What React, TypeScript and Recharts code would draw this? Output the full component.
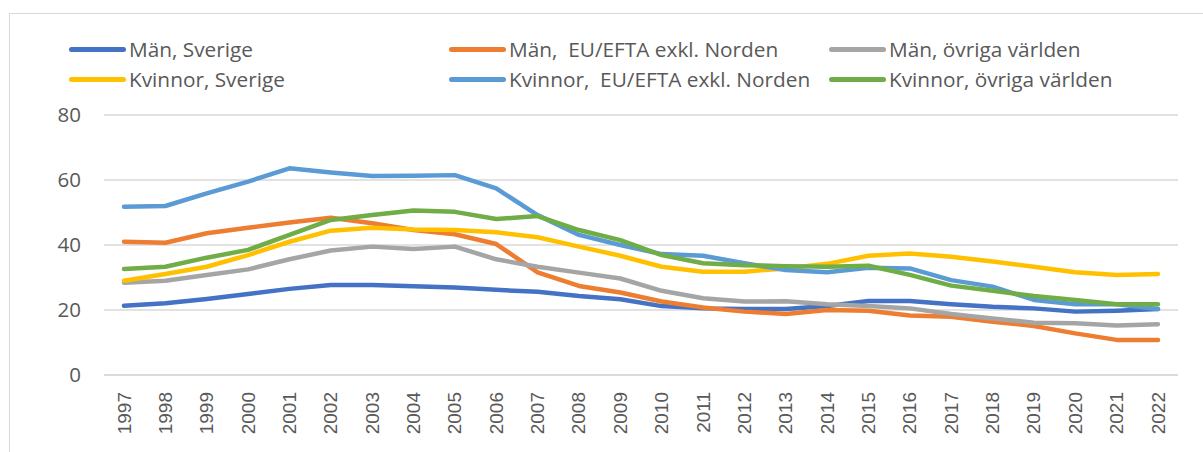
import React from 'react';
import { LineChart, Line, XAxis, YAxis, CartesianGrid } from 'recharts';

const years = [
  '1997', '1998', '1999', '2000', '2001', '2002', '2003', '2004', '2005', '2006', '2007', '2008', '2009',
  '2010', '2011', '2012', '2013', '2014', '2015', '2016', '2017', '2018', '2019', '2020', '2021', '2022',
];

const manSverige = [21.3, 22.1, 23.4, 24.9, 26.5, 27.7, 27.7, 27.3, 26.9, 26.2, 25.6, 24.3, 23.3, 21.2, 20.5, 20.3, 20.3, 21.2, 22.8, 22.8, 21.8, 21.0, 20.5, 19.5, 19.8, 20.3];
const manEu = [41.0, 40.7, 43.6, 45.3, 46.9, 48.4, 46.7, 44.6, 43.3, 40.3, 31.6, 27.4, 25.4, 22.6, 20.8, 19.5, 18.8, 20.0, 19.8, 18.3, 17.9, 16.4, 15.1, 12.8, 10.8, 10.8];
const manOvriga = [28.4, 29.0, 30.8, 32.5, 35.6, 38.3, 39.5, 38.8, 39.5, 35.6, 33.3, 31.5, 29.7, 25.9, 23.6, 22.6, 22.7, 21.8, 21.2, 20.5, 18.8, 17.4, 16.1, 15.9, 15.2, 15.6];
const kvSverige = [29.0, 31.1, 33.3, 36.9, 41.0, 44.4, 45.3, 44.8, 44.6, 43.9, 42.4, 39.5, 36.7, 33.3, 31.8, 31.8, 32.8, 34.2, 36.7, 37.4, 36.4, 34.9, 33.3, 31.6, 30.8, 31.1];
const kvEu = [51.8, 52.0, 55.9, 59.5, 63.6, 62.3, 61.2, 61.3, 61.5, 57.4, 49.2, 43.1, 40.0, 37.2, 36.7, 34.4, 32.3, 31.6, 33.0, 32.8, 29.2, 27.2, 23.1, 21.8, 21.8, 20.3];
const kvOvriga = [32.6, 33.3, 36.1, 38.5, 43.1, 47.7, 49.2, 50.6, 50.2, 48.0, 48.9, 44.6, 41.5, 36.9, 34.4, 33.8, 33.5, 33.3, 33.6, 30.8, 27.5, 25.9, 24.3, 23.1, 21.8, 21.8];

const yTicks = [0, 20, 40, 60, 80];

// series in Excel order (legend fills row-wise, last drawn on top)
const series = [
  { key: 'manSverige', name: 'Män, Sverige', color: '#4472C4', values: manSverige },
  { key: 'manEu', name: 'Män,  EU/EFTA exkl. Norden', color: '#ED7D31', values: manEu },
  { key: 'manOvriga', name: 'Män, övriga världen', color: '#A5A5A5', values: manOvriga },
  { key: 'kvSverige', name: 'Kvinnor, Sverige', color: '#FFC000', values: kvSverige },
  { key: 'kvEu', name: 'Kvinnor,  EU/EFTA exkl. Norden', color: '#5B9BD5', values: kvEu },
  { key: 'kvOvriga', name: 'Kvinnor, övriga världen', color: '#70AD47', values: kvOvriga },
];

const data = years.map((year, i) => {
  const row: Record<string, string | number> = { year };
  series.forEach(s => {
    row[s.key] = s.values[i];
  });
  return row;
});

const textColor = '#595959';
const legendFont = '"Open Sans", "Noto Sans", sans-serif';

const YearTick = (props: any) => {
  const { x, y, payload } = props;
  return (
    <text
      x={x}
      y={y}
      transform={`rotate(-90, ${x}, ${y})`}
      textAnchor="end"
      dominantBaseline="central"
      fill={textColor}
      fontSize={19}
      fontFamily='"Liberation Sans", Arial, sans-serif'
    >
      {payload.value}
    </text>
  );
};

const legendCols = [69, 449, 829];
const legendRows = [49, 79];

export default function App() {
  return (
    <div style={{ position: 'absolute', left: 0, top: 0, width: 1203, height: 452, background: '#fff' }}>
      <div
        style={{
          position: 'absolute',
          left: 9,
          top: 13,
          right: -2,
          bottom: -2,
          borderLeft: '1.5px solid #D9D9D9',
          borderTop: '1.5px solid #D9D9D9',
        }}
      />
      {series.map((s, i) => {
        const col = i % 3;
        const row = Math.floor(i / 3);
        return (
          <div
            key={s.key}
            style={{
              position: 'absolute',
              left: legendCols[col],
              top: legendRows[row] - 15,
              height: 30,
              display: 'flex',
              alignItems: 'center',
              fontFamily: legendFont,
              fontSize: 20.8,
              color: textColor,
              whiteSpace: 'pre',
            }}
          >
            <span
              style={{
                display: 'inline-block',
                width: 57,
                height: 5,
                borderRadius: 3,
                background: s.color,
                marginRight: 3,
              }}
            />
            {s.name}
          </div>
        );
      })}
      <LineChart
        width={1203}
        height={452}
        data={data}
        margin={{ top: 115, right: 25, bottom: 0, left: 0 }}
        style={{ position: 'absolute', left: 0, top: 0 }}
      >
        <CartesianGrid vertical={false} stroke="#D9D9D9" strokeWidth={1.3} />
        <XAxis
          dataKey="year"
          height={77}
          interval={0}
          padding={{ left: 20, right: 20 }}
          tickLine={false}
          axisLine={{ stroke: '#D9D9D9', strokeWidth: 1.3 }}
          tickSize={0}
          tickMargin={17}
          tick={<YearTick />}
        />
        <YAxis
          width={104}
          domain={[0, 80]}
          ticks={yTicks}
          axisLine={false}
          tickLine={false}
          tickSize={0}
          tickMargin={23}
          tick={{ fill: textColor, fontSize: 20.5, fontFamily: legendFont }}
        />
        {series.map(s => (
          <Line
            key={s.key}
            dataKey={s.key}
            name={s.name}
            stroke={s.color}
            strokeWidth={4.5}
            strokeLinecap="round"
            strokeLinejoin="round"
            dot={false}
            activeDot={false}
            isAnimationActive={false}
          />
        ))}
      </LineChart>
    </div>
  );
}
